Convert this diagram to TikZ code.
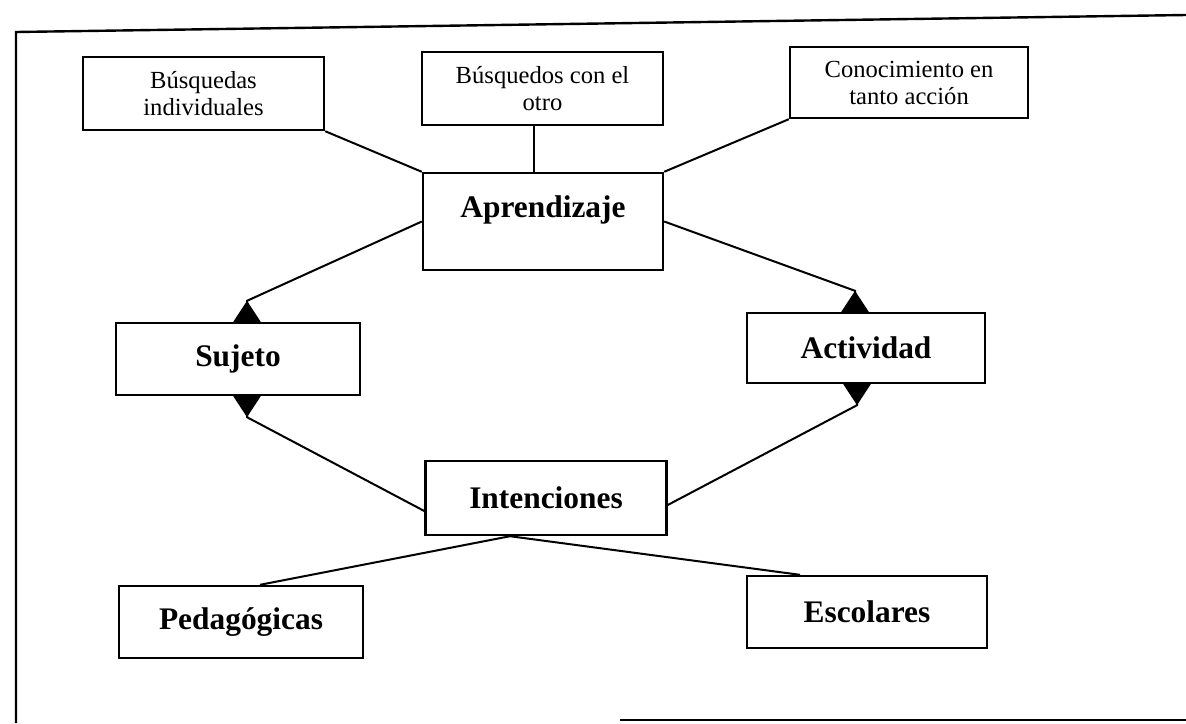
\documentclass[tikz,border=0pt]{standalone}
\usepackage{fontspec}
\setmainfont{Liberation Serif}
\usetikzlibrary{arrows.meta}

\begin{document}
\begin{tikzpicture}[x=0.5pt,y=-0.5pt]
            \tikzset{
                concepto/.style={draw, line width=1.2pt, minimum width=121pt, minimum height=36pt, inner sep=0pt, font=\fontsize{15.7}{18}\selectfont\bfseries},
                nota/.style={draw, line width=1.2pt, minimum width=120.5pt, minimum height=36.5pt, inner sep=0pt, align=center, font=\fontsize{12.3}{13.5}\selectfont},
                enlace/.style={line width=1pt},
                flecha/.style={line width=1pt, -{Triangle[reversed, length=10.5pt, width=13.5pt]}}
            }
            \useasboundingbox (0,0) rectangle (1186,723);

            % marco
            \draw[line width=1.2pt] (1186,15) -- (16,32) -- (16,723);
            \draw[line width=1.2pt] (620,720) -- (1186,720);

            \draw node[nota] (bind) at (203.5,93.5) {Búsquedas\\individuales};
            \draw node[nota] (botro) at (542.5,88.5) {Búsquedos con el\\otro};
            \draw node[nota, minimum width=119pt, minimum height=35.5pt] (conoc) at (909,82.5) {Conocimiento en\\tanto acción};
            \draw node[concepto, minimum width=120pt, minimum height=48.5pt, text height=22pt, text depth=26.5pt] (apr) at (543,221.5) {Aprendizaje};
            \draw node[concepto, minimum width=122pt] (suj) at (238,359) {Sujeto};
            \draw node[concepto, minimum width=119pt, minimum height=35pt] (act) at (866,348) {Actividad};
            \draw node[concepto, minimum width=120.5pt, minimum height=37pt] (int) at (546,498) {Intenciones};
            \draw node[concepto, minimum width=122pt] (ped) at (241,622) {Pedagógicas};
            \draw node[concepto, minimum width=120pt] (esc) at (867,612) {Escolares};

            \foreach \x/\y in {%
                bind.south east/apr.north west,conoc.south west/apr.north east%
            }{
                \draw[enlace] (\x) -- (\y);
            }
            \draw[enlace] ([xshift=-4.5pt]botro.south) -- ([xshift=-4.5pt]botro.south |- apr.north);

            \draw[flecha] (apr.west) -- ([xshift=4.5pt,yshift=10.5pt]suj.north) -- ([xshift=4.5pt]suj.north);
            \draw[flecha] (apr.east) -- ([xshift=-5.5pt,yshift=10.5pt]act.north) -- ([xshift=-5.5pt]act.north);
            \draw[flecha] ([yshift=-6.5pt]int.west) -- ([xshift=4.5pt,yshift=-10.5pt]suj.south) -- ([xshift=4.5pt]suj.south);
            \draw[flecha] ([yshift=-3.5pt]int.east) -- ([xshift=-4.5pt,yshift=-10.5pt]act.south) -- ([xshift=-4.5pt]act.south);

            \draw[enlace] ([xshift=-18pt]int.south) -- ([xshift=9.5pt]ped.north);
            \draw[enlace] ([xshift=-18pt]int.south) -- ([xshift=-33.5pt]esc.north);
        \end{tikzpicture}
\end{document}
